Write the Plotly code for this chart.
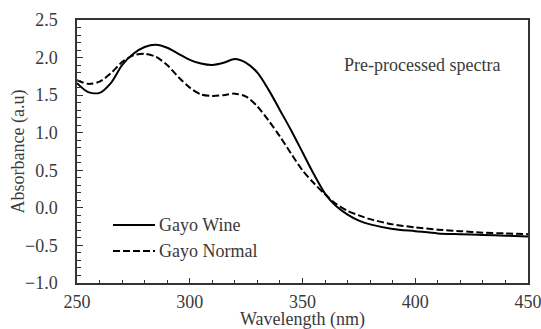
import plotly.graph_objects as go

wavelength = [250, 255, 260, 265, 270, 275, 280, 285, 290, 295, 300, 305, 310, 315, 320,
              325, 330, 335, 340, 345, 350, 355, 360, 365, 370, 375, 380, 390, 400, 410,
              420, 430, 440, 450]
gayo_wine = [1.66, 1.54, 1.53, 1.66, 1.90, 2.05, 2.14, 2.17, 2.13, 2.05, 1.97, 1.92, 1.90, 1.93, 1.98,
             1.93, 1.80, 1.57, 1.30, 1.03, 0.74, 0.45, 0.19, 0.02, -0.09, -0.17, -0.22, -0.28, -0.31, -0.34,
             -0.35, -0.36, -0.37, -0.38]
gayo_normal = [1.70, 1.65, 1.68, 1.79, 1.94, 2.03, 2.05, 2.01, 1.90, 1.74, 1.60, 1.51, 1.49, 1.50, 1.52,
               1.48, 1.35, 1.16, 0.95, 0.72, 0.50, 0.33, 0.18, 0.05, -0.04, -0.10, -0.15, -0.22, -0.26, -0.29,
               -0.31, -0.33, -0.34, -0.35]
series_names = ["Gayo Wine", "Gayo Normal"]
x_title = "Wavelength (nm)"
y_title = "Absorbance (a.u)"

FONT = "Liberation Serif"
TXT = "#3a3a3a"
FS = 18
DASH = "7px,3px"

fig = go.Figure()
fig.add_trace(go.Scatter(x=wavelength, y=gayo_wine, mode="lines", name=series_names[0],
                         line=dict(color="black", width=2, shape="spline", smoothing=0.8),
                         showlegend=False))
fig.add_trace(go.Scatter(x=wavelength, y=gayo_normal, mode="lines", name=series_names[1],
                         line=dict(color="black", width=2, dash=DASH, shape="spline", smoothing=0.8),
                         showlegend=False))

# manual legend (layout positions in paper coordinates)
leg_x0, leg_x1, leg_tx = 0.0798, 0.173, 0.1774
leg_y = [0.2205, 0.1217]
shapes = []
annotations = []
for i, (nm, dash) in enumerate(zip(series_names, ["solid", DASH])):
    shapes.append(dict(type="line", xref="paper", yref="paper", x0=leg_x0, x1=leg_x1,
                       y0=leg_y[i], y1=leg_y[i], line=dict(color="black", width=2, dash=dash)))
    annotations.append(dict(text=nm, x=leg_tx, y=leg_y[i], xref="paper", yref="paper",
                            showarrow=False, xanchor="left", yanchor="middle",
                            font=dict(family=FONT, size=FS, color=TXT)))
annotations.append(dict(text="Pre-processed spectra", x=0.765, y=0.829, xref="paper", yref="paper",
                        showarrow=False, xanchor="center", yanchor="middle",
                        font=dict(family=FONT, size=FS, color=TXT)))
# axis titles
annotations.append(dict(text=x_title, x=0.5, y=0, xref="paper", yref="paper", showarrow=False,
                        xanchor="center", yanchor="middle", yshift=-36,
                        font=dict(family=FONT, size=FS, color=TXT)))
annotations.append(dict(text=y_title, x=0, y=0.5, xref="paper", yref="paper", showarrow=False,
                        xanchor="center", yanchor="middle", xshift=-59, textangle=-90,
                        font=dict(family=FONT, size=FS, color=TXT)))

fig.update_layout(
    width=541, height=329,
    showlegend=False,
    margin=dict(l=77, r=13, t=20, b=46),
    paper_bgcolor="white", plot_bgcolor="white",
    font=dict(family=FONT, size=FS, color=TXT),
    shapes=shapes,
    annotations=annotations,
)

fig.update_xaxes(
    range=[250, 450], dtick=50, tick0=250, showgrid=False, zeroline=False,
    showline=True, linecolor="#333", linewidth=1.5, mirror=True, automargin=False,
    ticks="inside", ticklen=5, tickcolor="#333", tickwidth=1,
    minor=dict(dtick=10, ticks="inside", ticklen=3, tickcolor="#333", tickwidth=1, showgrid=False),
    tickfont=dict(family=FONT, size=FS, color=TXT),
    ticklabelstandoff=2, ticklabeloverflow="allow",
)
fig.update_yaxes(
    range=[-1.0, 2.5], dtick=0.5, tick0=-1.0, tickformat=".1f", showgrid=False, zeroline=False,
    showline=True, linecolor="#333", linewidth=1.5, mirror=True, automargin=False,
    ticks="inside", ticklen=6, tickcolor="#333", tickwidth=1,
    minor=dict(dtick=0.1, ticks="inside", ticklen=4, tickcolor="#333", tickwidth=1, showgrid=False),
    tickfont=dict(family=FONT, size=FS, color=TXT),
    ticklabelstandoff=14, ticklabeloverflow="allow",
)

fig.write_html("out.html")
